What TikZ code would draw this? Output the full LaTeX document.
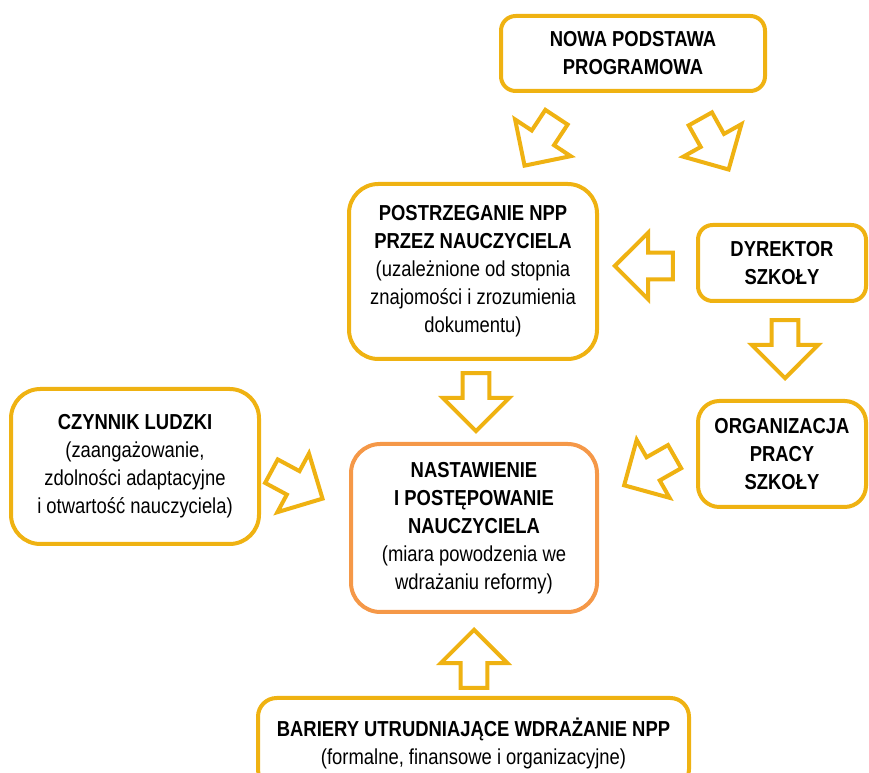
\documentclass[tikz,border=0pt]{standalone}
\usepackage{fontspec}
\setmainfont{Liberation Sans}[FakeStretch=0.85]
\usepackage{xcolor}
\usepackage{tikz}
\usetikzlibrary{shapes.arrows}
\definecolor{boxgold}{RGB}{239,178,18}
\definecolor{boxorange}{RGB}{245,152,72}
\tikzset{
  box/.style={draw=boxgold,line width=3pt,rounded corners=#1,align=center,inner sep=0pt,
    font=\fontsize{16.25}{21}\selectfont},
  box/.default=11pt,
  blockarr/.style={single arrow,draw=boxgold,line width=3pt,fill=white,inner sep=0pt,
    text height=8.5pt,text depth=8.5pt,text width=0pt,
    minimum height=43.5pt,single arrow head extend=15pt,
    single arrow head indent=0pt,anchor=tip,rotate=#1}
}

\begin{document}
\begin{tikzpicture}[x=0.75pt,y=-0.75pt]
\useasboundingbox(0,0)rectangle(869,773);
\clip(0,0)rectangle(869,773);
%\draw[help lines,step=50](0,0)grid(869,773);
\node[box,minimum width=198pt,minimum height=56.25pt](nowa)at(633,53.5){\textbf{NOWA PODSTAWA}\\\textbf{PROGRAMOWA}};
\node[box=22pt,minimum width=186pt,minimum height=131.25pt](postrz)at(473,271.5){\textbf{POSTRZEGANIE NPP}\\\textbf{PRZEZ NAUCZYCIELA}\\(uzależnione od stopnia\\znajomości i zrozumienia\\dokumentu)};
\node[box,minimum width=126pt,minimum height=57pt](dyrektor)at(782,263){\textbf{DYREKTOR}\\\textbf{SZKOŁY}};
\node[box=16pt,minimum width=126pt,minimum height=79.5pt](organizacja)at(782,454){\textbf{ORGANIZACJA}\\\textbf{PRACY}\\\textbf{SZKOŁY}};
\node[box=22pt,minimum width=186pt,minimum height=116.25pt](czynnik)at(135,466.5){\textbf{CZYNNIK LUDZKI}\\(zaangażowanie,\\zdolności adaptacyjne\\i otwartość nauczyciela)};
\node[box=22pt,draw=boxorange,minimum width=184.5pt,minimum height=126pt](nastawienie)at(474,528){\textbf{NASTAWIENIE}\\\textbf{I POSTĘPOWANIE}\\\textbf{NAUCZYCIELA}\\(miara powodzenia we\\wdrażaniu reformy)};
\node[box=14pt,minimum width=323.25pt,minimum height=67.5pt](bariery)at(473.5,743){\textbf{BARIERY UTRUDNIAJĄCE WDRAŻANIE NPP}\\(formalne, finansowe i organizacyjne)};

\node[blockarr=236.6](nowa-postrz)at(523,168){};
\node[blockarr=-60.8](nowa-dyrektor)at(730,172){};
\node[blockarr=180](dyrektor-postrz)at(612,266){};
\node[blockarr=-90](dyrektor-organizacja)at(785,381){};
\node[blockarr=-90](postrz-nastawienie)at(476,434){};
\node[blockarr=209.6](organizacja-nastawienie)at(621.7,486.7){};
\node[blockarr=-28.3](czynnik-nastawienie)at(325,500){};
\node[blockarr=90](bariery-nastawienie)at(474,627){};
\end{tikzpicture}
\end{document}
